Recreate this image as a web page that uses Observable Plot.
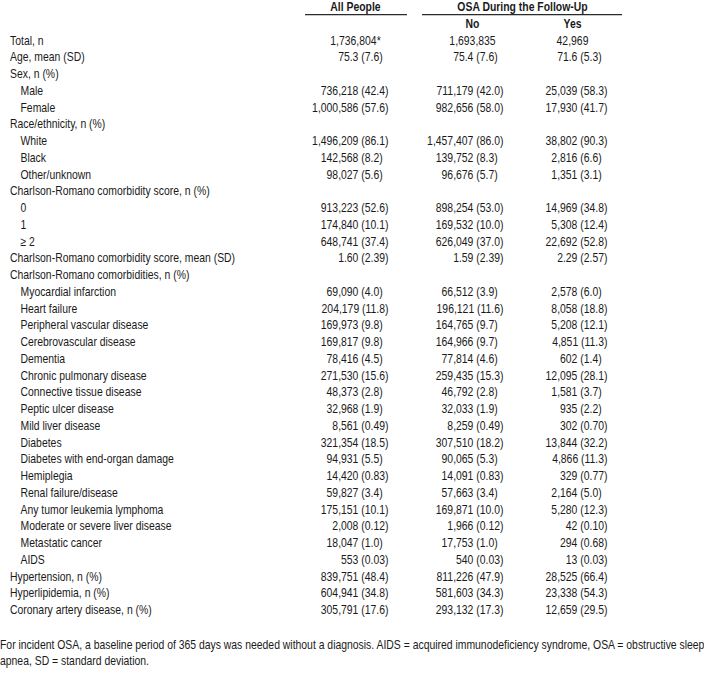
<!DOCTYPE html>
<html>
<head>
<meta charset="utf-8">
<script src="https://cdn.jsdelivr.net/npm/d3@7"></script>
<script src="https://cdn.jsdelivr.net/npm/@observablehq/plot@0.6"></script>
<style>
  html, body { margin: 0; padding: 0; background: #fff; overflow: hidden; }
  #chart svg { display: block; }
  #fn {
    margin: 11.5px 0 0 0;
    font-family: "Liberation Sans", Arial, sans-serif;
    font-size: 12.7px;
    line-height: 16.5px;
    color: #1a1a1a;
    white-space: nowrap;
    transform: scaleX(0.82);
    transform-origin: 0 0;
    width: 860px;
  }
</style>
</head>
<body>
<div id="chart"></div>
<p id="fn"></p>
<script>
// ---------------- data ----------------
const rowLabels = [
  "Total, n", "Age, mean (SD)", "Sex, n (%)", "Male", "Female",
  "Race/ethnicity, n (%)", "White", "Black", "Other/unknown",
  "Charlson-Romano comorbidity score, n (%)", "0", "1", "≥ 2",
  "Charlson-Romano comorbidity score, mean (SD)",
  "Charlson-Romano comorbidities, n (%)",
  "Myocardial infarction", "Heart failure", "Peripheral vascular disease",
  "Cerebrovascular disease", "Dementia", "Chronic pulmonary disease",
  "Connective tissue disease", "Peptic ulcer disease", "Mild liver disease",
  "Diabetes", "Diabetes with end-organ damage", "Hemiplegia",
  "Renal failure/disease", "Any tumor leukemia lymphoma",
  "Moderate or severe liver disease", "Metastatic cancer", "AIDS",
  "Hypertension, n (%)", "Hyperlipidemia, n (%)", "Coronary artery disease, n (%)"
];
const rowLevels = [
  0, 0, 0, 1, 1,
  0, 1, 1, 1,
  0, 1, 1, 1,
  0,
  0,
  1, 1, 1, 1, 1, 1, 1, 1, 1, 1, 1, 1, 1, 1, 1, 1, 1,
  0, 0, 0
];
const allPeople = [
  "1,736,804*", "75.3 (7.6)", "", "736,218 (42.4)", "1,000,586 (57.6)",
  "", "1,496,209 (86.1)", "142,568 (8.2)", "98,027 (5.6)",
  "", "913,223 (52.6)", "174,840 (10.1)", "648,741 (37.4)",
  "1.60 (2.39)",
  "",
  "69,090 (4.0)", "204,179 (11.8)", "169,973 (9.8)", "169,817 (9.8)", "78,416 (4.5)",
  "271,530 (15.6)", "48,373 (2.8)", "32,968 (1.9)", "8,561 (0.49)", "321,354 (18.5)",
  "94,931 (5.5)", "14,420 (0.83)", "59,827 (3.4)", "175,151 (10.1)", "2,008 (0.12)",
  "18,047 (1.0)", "553 (0.03)",
  "839,751 (48.4)", "604,941 (34.8)", "305,791 (17.6)"
];
const osaNo = [
  "1,693,835", "75.4 (7.6)", "", "711,179 (42.0)", "982,656 (58.0)",
  "", "1,457,407 (86.0)", "139,752 (8.3)", "96,676 (5.7)",
  "", "898,254 (53.0)", "169,532 (10.0)", "626,049 (37.0)",
  "1.59 (2.39)",
  "",
  "66,512 (3.9)", "196,121 (11.6)", "164,765 (9.7)", "164,966 (9.7)", "77,814 (4.6)",
  "259,435 (15.3)", "46,792 (2.8)", "32,033 (1.9)", "8,259 (0.49)", "307,510 (18.2)",
  "90,065 (5.3)", "14,091 (0.83)", "57,663 (3.4)", "169,871 (10.0)", "1,966 (0.12)",
  "17,753 (1.0)", "540 (0.03)",
  "811,226 (47.9)", "581,603 (34.3)", "293,132 (17.3)"
];
const osaYes = [
  "42,969", "71.6 (5.3)", "", "25,039 (58.3)", "17,930 (41.7)",
  "", "38,802 (90.3)", "2,816 (6.6)", "1,351 (3.1)",
  "", "14,969 (34.8)", "5,308 (12.4)", "22,692 (52.8)",
  "2.29 (2.57)",
  "",
  "2,578 (6.0)", "8,058 (18.8)", "5,208 (12.1)", "4,851 (11.3)", "602 (1.4)",
  "12,095 (28.1)", "1,581 (3.7)", "935 (2.2)", "302 (0.70)", "13,844 (32.2)",
  "4,866 (11.3)", "329 (0.77)", "2,164 (5.0)", "5,280 (12.3)", "42 (0.10)",
  "294 (0.68)", "13 (0.03)",
  "28,525 (66.4)", "23,338 (54.3)", "12,659 (29.5)"
];
const columnKeys = ["all", "no", "yes"];
const columnHeaders = ["All People", "No", "Yes"];
const groupHeader = "OSA During the Follow-Up";
const footnoteLines = [
  "For incident OSA, a baseline period of 365 days was needed without a diagnosis. AIDS = acquired immunodeficiency syndrome, OSA = obstructive sleep",
  "apnea, SD = standard deviation."
];

// ---------------- layout / style ----------------
const FONT = '"Liberation Sans", Arial, sans-serif';
const FS = 12.7;
const NARROW = 0.82;           // Arial Narrow look: Arial metrics compressed horizontally
const INK = "#1a1a1a";
const digitW = FS * 0.556 * NARROW;
const W = 704, H = 625;
const layout = {
  labelX: [9.5, 20],
  center: {all: 355, no: 472, yes: 572, group: 522},
  right: {all: 388, no: 503, yes: 607},
  rules: [{x1: 305, x2: 407}, {x1: 422, x2: 622}],
  rowY: {header: -2, sub: -1, rule: -1.55}
};
const valueByCol = {all: allPeople, no: osaNo, yes: osaYes};

// ---------------- build tables ----------------
const labelRows = rowLabels.map((t, i) => ({row: i, text: t, level: rowLevels[i]}));
const cells = [];
columnKeys.forEach(col => {
  valueByCol[col].forEach((v, i) => {
    if (!v) return;
    const short = /\(\d\.\d\)$/.test(v);
    cells.push({row: i, col, text: v, total: i === 0, short});
  });
});
const headers = [
  {text: columnHeaders[0], x: layout.center.all, y: layout.rowY.header},
  {text: groupHeader, x: layout.center.group, y: layout.rowY.header},
  {text: columnHeaders[1], x: layout.center.no, y: layout.rowY.sub},
  {text: columnHeaders[2], x: layout.center.yes, y: layout.rowY.sub}
];
const rules = layout.rules.map(r => ({...r, y: layout.rowY.rule}));

const common = {fontSize: FS, fill: INK, fontFamily: FONT};

const chart = Plot.plot({
  width: W,
  height: H,
  margin: 0,
  x: {type: "linear", domain: [0, W], range: [0, W], axis: null},
  y: {type: "linear", domain: [-2, rowLabels.length - 1], range: [6.5, 40 + 16.75 * (rowLabels.length - 1)], axis: null},
  style: {fontFamily: FONT, fontSize: FS + "px", color: INK, background: "#fff"},
  marks: [
    Plot.ruleY(rules, {y: "y", x1: "x1", x2: "x2", stroke: "#2a2a2a", strokeWidth: 1.2}),
    Plot.text(headers, {x: "x", y: "y", text: "text", textAnchor: "middle", fontWeight: "bold", ...common}),
    Plot.text(labelRows, {x: d => layout.labelX[d.level], y: "row", text: "text", textAnchor: "start", ...common}),
    Plot.text(cells.filter(d => d.total), {x: d => layout.center[d.col], y: "row", text: "text", textAnchor: "middle", ...common}),
    Plot.text(cells.filter(d => !d.total && !d.short), {x: d => layout.right[d.col], y: "row", text: "text", textAnchor: "end", ...common}),
    Plot.text(cells.filter(d => !d.total && d.short), {x: d => layout.right[d.col], y: "row", text: "text", textAnchor: "end", dx: -digitW, ...common})
  ]
});

// compress glyphs horizontally around each text's own anchor point
chart.querySelectorAll("text").forEach(t => {
  const tr = t.getAttribute("transform") || "";
  const xa = t.getAttribute("x");
  if (xa != null && isFinite(+xa)) t.setAttribute("x", +xa / NARROW);
  t.setAttribute("transform", `${tr} scale(${NARROW},1)`.trim());
});

document.getElementById("chart").appendChild(chart);
const fn = document.getElementById("fn");
footnoteLines.forEach((l, i) => {
  if (i) fn.appendChild(document.createElement("br"));
  fn.appendChild(document.createTextNode(l));
});
</script>
</body>
</html>
